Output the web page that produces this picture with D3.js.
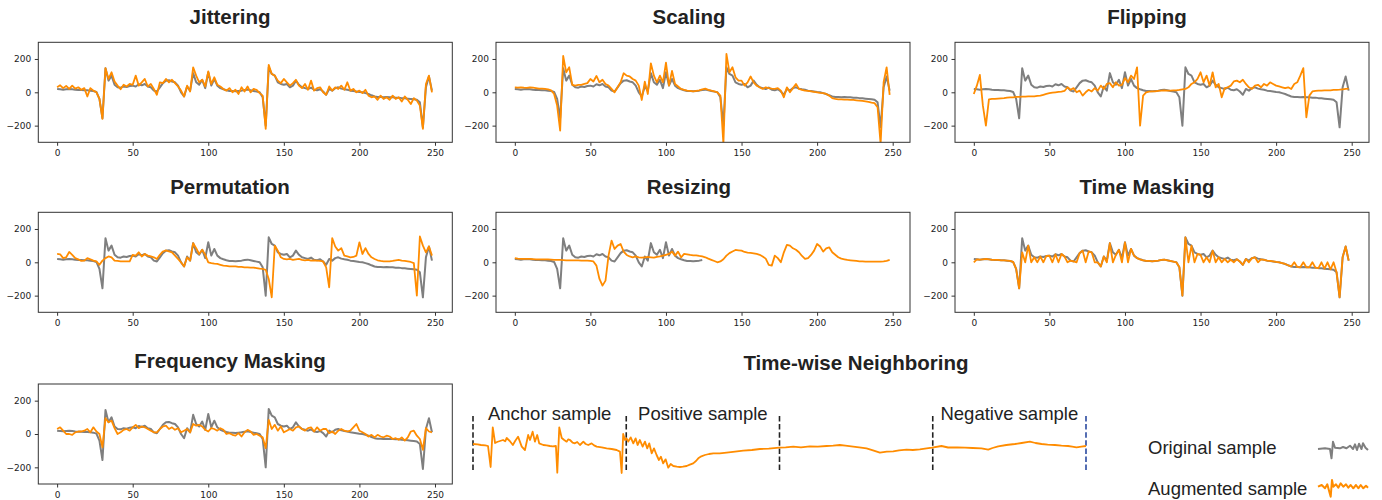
<!DOCTYPE html>
<html>
<head>
<meta charset="UTF-8" />
<title>Augmentations</title>
<script src="https://d3js.org/d3.v7.min.js"></script>
<style>
  body { margin: 0; background: #fff; }
  .tick text { font-family: "DejaVu Sans", sans-serif; font-size: 9px; fill: #222; }
  .tick line { stroke: #333; }
  .title { font-family: "Liberation Sans", Arial, sans-serif; font-weight: bold; font-size: 20.5px; fill: #222; }
  .label { font-family: "Liberation Sans", Arial, sans-serif; font-size: 18.5px; fill: #222; }
</style>
</head>
<body>
<div id="chart"></div>
<script>
// sample positions (every 2nd step of the 250-step window)
const steps = d3.range(0, 250, 2);
const xTicks = [0, 50, 100, 150, 200, 250];
const yTicks = [-200, 0, 200];

// grey original sample
const original = [
  20, 18, 16, 18, 20, 18, 15, 14, 14, 12,
  12, 10, 8, 2, -40, -156, 144, 70, 100, 45,
  30, 28, 35, 32, 38, 40, 35, 48, 42, 50,
  35, 30, 10, 5, 30, 55, 70, 72, 65, 60,
  40, 0, -25, 35, 10, 115, 60, 45, 75, 25,
  120, 40, 80, 40, 25, 18, 12, 8, 8, 6,
  8, 10, 14, 16, 12, 8, 4, 0, -30, -200,
  150, 110, 100, 60, 50, 45, 50, 30, 40, 70,
  45, 30, 25, 20, 28, 15, 12, 18, 5, -15,
  20, 10, 25, 30, 22, 18, 15, 10, 8, 5,
  2, 0, -5, -10, -18, -25, -28, -28, -30, -28,
  -30, -30, -32, -32, -35, -36, -38, -40, -42, -45,
  -60, -210, 30, 95, 10
];

const jittering = [
  30, 42, 25, 38, 20, 40, 22, 30, 15, 25,
  -25, 25, 10, 0, -40, -160, 145, 80, 120, 65,
  40, 18, 45, 35, 50, 45, 100, 40, 60, 80,
  35, 50, 20, -15, 60, 55, 80, 60, 75, 55,
  35, 10, -25, 40, 5, 150, 100, 60, 75, 35,
  125, 50, 90, 45, 35, 20, 10, 25, 0, 15,
  -10, 30, 5, 35, 0, 20, 15, -5, -20, -220,
  165, 110, 100, 70, 55, 80, 60, 40, 55, 75,
  40, 25, 50, 15, 70, 10, 25, 30, 0, -15,
  35, 10, 30, 20, 40, 15, 60, 10, 20, 0,
  10, -5, 15, -20, -30, -25, -45, -20, -40, -30,
  -45, -20, -40, -30, -55, -25, -45, -70, -35, -50,
  -80, -220, 50, 100, 0
];

const scaling = [
  30, 28, 30, 28, 27, 30, 28, 25, 22, 22,
  20, 18, 12, -10, -80, -230, 218, 120, 150, 45,
  40, 45, 45, 50, 55, 80, 65, 98, 60, 75,
  50, 40, 20, 0, 30, 60, 114, 100, 95, 80,
  70, 40, -46, 64, -10, 174, 100, 60, 100, 60,
  178, 40, 128, 50, 35, 20, 15, 10, 8, 5,
  8, 12, 18, 22, 15, 10, 5, 0, -20, -310,
  230, 120, 150, 90, 70, 70, 40, 60, 95, 60,
  40, 30, 20, 30, 25, 22, 20, 25, 10, -30,
  30, 0, 25, 50, 20, 15, 10, 8, 5, 2,
  0, -3, -5, -10, -20, -35, -40, -42, -42, -44,
  -44, -45, -46, -48, -50, -52, -55, -58, -62, -65,
  -90, -310, 60, 150, -15
];

const flipping = [
  -10, 40, 104, -80, -200, -42, -40, -40, -38, -36,
  -35, -32, -30, -30, -28, -28, -26, -26, -25, -25,
  -25, -22, -20, -15, -10, -5, -2, 0, 2, 4,
  8, 30, 15, 25, 0, 10, -20, 0, 15, 5,
  25, 10, 40, 20, 50, 55, 30, 60, 40, 45,
  85, 60, 100, 80, 150, -200, -20, 0, 4, 5,
  5, 8, 10, 12, 10, 10, 12, 12, 14, 18,
  20, 30, 50, 60, 80, 120, 60, 100, 40, 120,
  30, 50, -30, 25, 30, 40, 65, 70, 60, 75,
  50, 30, 20, 40, 45, 30, 50, 40, 60, 50,
  40, 35, 30, 25, 30, 20, 50, 60, 100, 145,
  -150, -20, 5, 8, 10, 10, 12, 12, 12, 14,
  15, 16, 18, 20, 22
];

const permutation = [
  50, 48, 25, 30, 62, 45, 25, 18, 8, 10,
  25, 18, 10, 5, -15, 10, 25, 35, 30, 10,
  8, 6, 5, 5, 5, 45, 40, 60, 35, 50,
  40, 35, 30, 20, 45, 65, 72, 65, 60, 40,
  20, 0, -25, 30, 10, 115, 85, 50, 75, 45,
  0, -5, -8, -10, -15, -20, -22, -25, -25, -25,
  -28, -28, -30, -30, -32, -32, -35, -38, -40, -45,
  -100, -210, 100, 70, 30, 20, 18, 20, 15, 18,
  20, 15, 12, 15, 10, 12, 10, 8, 5, -30,
  -150, 145, 95, 70, 85, 40, 35, 30, 32, 40,
  120, 50, 85, 50, 30, 20, 12, 8, 6, 5,
  5, 8, 12, 15, 10, 8, 5, 2, -5, -200,
  155, 100, 60, 95, 40
];

const resizing = [
  25, 22, 20, 20, 20, 20, 19, 18, 18, 18,
  18, 17, 16, 15, 15, 14, 13, 12, 12, 12,
  12, 11, 10, 10, 10, 8, 5, -20, -100, -140,
  -110, 40, 130, 80, 100, 110, 64, 44, 35, 30,
  35, 30, 28, 30, 32, 30, 28, 32, 35, 40,
  45, 50, 64, 40, 64, 30, 50, 48, 44, 42,
  42, 38, 35, 30, 22, 15, 8, 0, 5, 18,
  40, 55, 65, 74, 72, 70, 62, 58, 56, 54,
  50, 45, 35, 22, -15, -20, 40, 25, 0, 60,
  105, 100, 84, 75, 60, 38, 20, 25, 44, 70,
  110, 95, 64, 84, 90, 60, 45, 30, 22, 18,
  14, 12, 10, 8, 6, 5, 4, 4, 4, 4,
  4, 4, 6, 9, 14
];
const resizingOrigCount = 63;

const timeMasking = [
  0, 18, 16, 18, 20, 18, 15, 14, 14, 12,
  12, 10, 8, 2, -40, -156, 60, 0, 100, 0,
  30, 0, 35, 0, 38, 40, 0, 48, 0, 50,
  35, 0, 10, 5, 0, 55, 70, 0, 65, 60,
  0, 0, -25, 35, 0, 115, 0, 45, 75, 0,
  120, 0, 80, 40, 25, 18, 12, 8, 8, 6,
  8, 10, 14, 16, 12, 8, 4, 0, -30, -200,
  150, 0, 100, 0, 50, 45, 0, 30, 0, 70,
  0, 30, 0, 20, 0, 15, 0, 18, 5, -15,
  20, 0, 25, 30, 0, 18, 15, 10, 8, 5,
  2, 0, -5, -10, -18, -25, 0, -28, -30, 0,
  -30, -30, 0, -32, -35, 0, -38, 0, -42, 0,
  -60, -210, 30, 95, 10
];

const freqMasking = [
  30, 40, 20, 0, 0, -5, 10, 15, 15, 20,
  30, 10, 40, 15, 0, -80, 95, 70, 80, 35,
  0, 10, 25, 30, 20, 40, 55, 35, 45, 40,
  30, 20, 10, 10, 30, 45, 50, 30, 40, 25,
  35, 10, 20, 30, 10, 60, 50, 55, 45, 25,
  15, 35, 30, 20, 35, 25, 0, 5, -5, -10,
  5, -15, 10, 25, 15, -5, 0, -10, -20, -85,
  85, 30, 55, 20, 45, 10, 20, 30, 20, 40,
  45, 30, 20, 35, 40, 15, 40, 20, 30, 30,
  5, 15, 0, 20, 30, 20, 15, 20, 40, 60,
  20, 10, 0, -15, -5, -20, -5, -15, -20, -10,
  -15, -30, -25, -35, -20, -40, -20, 15, 20, -10,
  -30, -95, 35, 15, 10
];

// long recording for time-wise neighboring: [position, value]
const timewise = [
  [0, 12], [3, 10], [5.2, 6], [8, 4], [9.8, 0], [11.5, -126], [12.9, 112], [14.4, 18],
  [15.7, 24], [17.6, 30], [19.6, 36], [21, 28], [22, 48], [24, 30], [26, 6], [27.5, 30],
  [29.4, 56], [31.8, -4], [33.9, -24], [36, 66], [37.2, 36], [38.9, 86], [40.4, 26],
  [41.9, 66], [43.2, 16], [45.9, 6], [48, 4], [50.2, 0], [52, -2], [54.1, 0], [55, -160],
  [56.3, 112], [57.9, 48], [59.5, 36], [61.1, 26], [62.2, 40], [63.3, 36], [65, 20],
  [66.5, 16], [68, 24], [69.8, 6], [72, 26], [73.5, 12], [75.2, 6], [77.4, 16], [79, 4],
  [80.7, -4], [84, -8], [87.2, -14], [90.5, -18], [93.7, -24], [95.9, -34], [97, -162],
  [98, 72], [99.2, 36],
  [100.2, 46], [101.3, 26], [102.9, 52], [104.6, 16], [106.1, 46], [107.4, 6], [108.9, 36],
  [110.7, -4], [112.2, 26], [113.7, -14], [115, 16], [116.6, -44], [118.1, -14],
  [119.8, -54], [121.3, -84], [122.6, -64], [124.1, -104], [125.7, -80], [127.4, -130],
  [129, -108], [130.7, -120], [133, -124], [135, -126], [137, -124], [139.4, -120],
  [141.5, -112], [143.7, -104], [145.5, -90], [147, -74], [149, -62], [151.3, -54],
  [154, -48], [156.8, -44], [161, -44], [165.5, -40], [171, -34], [176.3, -28], [182, -24],
  [187.2, -18], [193, -16], [199.8, -10],
  [204, -8], [209, -4], [214, -8], [219.8, -2], [225, -4], [230.7, 0], [235, 2], [239.4, 6],
  [243, 2], [248.1, -4], [252, -8], [256.8, -14], [261, -26], [265.5, -40], [270, -34],
  [274.2, -32], [278, -26], [282.9, -22], [287, -24], [291.6, -20], [296, -14], [299.6, -10],
  [305.7, 0], [310, -9], [316, -8], [321, -10], [326, -12], [331.8, -14], [336.2, -22],
  [339, -12], [342.7, -2], [348, 6], [353.6, 12], [358, 18], [363.4, 26], [367, 18],
  [371, 12], [375, 8], [379.7, 6], [384, 2], [388.3, 0], [391, -4], [393.8, -8], [397, -4],
  [400, 0]
];
const twBounds = [0, 100, 200, 300, 400];
const twLabels = ["Anchor sample", "Positive sample", "", "Negative sample"];

// legend glyphs
const legendOrig = [[0, -10], [7, -3], [12, -10], [13.5, -103], [15, 63], [17, 3], [22, -3],
  [25, 10], [28.5, -3], [32, 23], [35, -10], [37, 37], [39, -20], [41, 43], [43.5, -10],
  [45, 47], [47.5, 3], [50, -20]];
const legendAug = [[0, 3], [3.7, 20], [7, -13], [9.3, 27], [11.3, -47], [12.7, -97], [14, 70],
  [15.3, 3], [18, 27], [20.3, -7], [22.7, 37], [25.3, 3], [28, 27], [30.3, -7], [32.7, 20],
  [35.3, -13], [38, 20], [40.3, -13], [42.7, 20], [45.3, -13], [48, 13], [50, -7]];

const GREY = "#7f7f7f";
const ORANGE = "#ff8c00";

const panels = [
  { title: "Jittering", aug: jittering, col: 0, row: 0 },
  { title: "Scaling", aug: scaling, col: 1, row: 0 },
  { title: "Flipping", aug: flipping, col: 2, row: 0 },
  { title: "Permutation", aug: permutation, col: 0, row: 1 },
  { title: "Resizing", aug: resizing, col: 1, row: 1, origCount: resizingOrigCount },
  { title: "Time Masking", aug: timeMasking, col: 2, row: 1 },
  { title: "Frequency Masking", aug: freqMasking, col: 0, row: 2 }
];

const svg = d3.select("#chart").append("svg")
  .attr("width", 1382)
  .attr("height", 500);

const colLeft = [38.3, 496, 955];
const colTitle = [230, 689, 1147];
const rowTop = [42.3, 212.3, 384];
const rowTitle = [24, 194, 368];
const W = 414, H = 100;

const x = d3.scaleLinear().domain([-12.45, 261.45]).range([0, W]);
const y = d3.scaleLinear().domain([-300, 300]).range([H, 0]);

const line = d3.line()
  .x((d, i) => x(steps[i]))
  .y(d => y(d));

panels.forEach((p, k) => {
  svg.append("text")
    .attr("class", "title")
    .attr("x", colTitle[p.col])
    .attr("y", rowTitle[p.row])
    .attr("text-anchor", "middle")
    .text(p.title);

  const g = svg.append("g")
    .attr("transform", `translate(${colLeft[p.col]},${rowTop[p.row]})`);

  g.append("clipPath").attr("id", "clip" + k)
    .append("rect").attr("width", W).attr("height", H);

  const lines = g.append("g").attr("clip-path", `url(#clip${k})`);
  const orig = p.origCount ? original.slice(0, p.origCount) : original;
  lines.append("path")
    .attr("d", line(orig))
    .attr("fill", "none")
    .attr("stroke", GREY)
    .attr("stroke-width", 2)
    .attr("stroke-linejoin", "round");
  lines.append("path")
    .attr("d", line(p.aug))
    .attr("fill", "none")
    .attr("stroke", ORANGE)
    .attr("stroke-width", 1.8)
    .attr("stroke-linejoin", "round");

  const yAxis = g.append("g")
    .call(d3.axisLeft(y).tickValues(yTicks).tickSize(3.5).tickPadding(3.5));
  yAxis.select(".domain").remove();

  const xAxis = g.append("g")
    .attr("transform", `translate(0,${H})`)
    .call(d3.axisBottom(x).tickValues(xTicks).tickSize(3.5).tickPadding(4));
  xAxis.select(".domain").remove();

  g.append("rect")
    .attr("width", W).attr("height", H)
    .attr("fill", "none")
    .attr("stroke", "#333")
    .attr("stroke-width", 1);
});

// time-wise neighboring
svg.append("text")
  .attr("class", "title")
  .attr("x", 856)
  .attr("y", 370)
  .attr("text-anchor", "middle")
  .text("Time-wise Neighboring");

const tx = d3.scaleLinear().domain([0, 400]).range([473, 1086]);
const ty = d3.scaleLinear().domain([-300, 300]).range([496, 396]);

svg.selectAll(".bound")
  .data(twBounds)
  .enter()
  .append("line")
  .attr("class", "bound")
  .attr("x1", d => tx(d)).attr("x2", d => tx(d))
  .attr("y1", 416).attr("y2", 472)
  .attr("stroke", (d, i) => i === twBounds.length - 1 ? "#2b4aa0" : "#222")
  .attr("stroke-width", 1.6)
  .attr("stroke-dasharray", "5.5,2.6");

svg.append("path")
  .attr("d", d3.line().x(d => tx(d[0])).y(d => ty(d[1]))(timewise))
  .attr("fill", "none")
  .attr("stroke", ORANGE)
  .attr("stroke-width", 1.8)
  .attr("stroke-linejoin", "round");

svg.selectAll(".twlabel")
  .data(twLabels)
  .enter()
  .append("text")
  .attr("class", "label")
  .attr("x", (d, i) => (tx(twBounds[i]) + tx(twBounds[i + 1])) / 2)
  .attr("y", 420)
  .attr("text-anchor", "middle")
  .text(d => d);

// legend
const lx = d3.scaleLinear().domain([0, 50]).range([1318, 1368]);
const legendItems = [
  { label: "Original sample", shape: legendOrig, color: GREY, cy: 448, base: 453.5 },
  { label: "Augmented sample", shape: legendAug, color: ORANGE, cy: 487, base: 494.5 }
];
legendItems.forEach(item => {
  svg.append("text")
    .attr("class", "label")
    .attr("x", 1148)
    .attr("y", item.base)
    .text(item.label);
  const ly = d3.scaleLinear().domain([-100, 100]).range([item.cy + 10, item.cy - 10]);
  svg.append("path")
    .attr("d", d3.line().x(d => lx(d[0])).y(d => ly(d[1]))(item.shape))
    .attr("fill", "none")
    .attr("stroke", item.color)
    .attr("stroke-width", 2)
    .attr("stroke-linejoin", "round");
});
</script>
</body>
</html>
